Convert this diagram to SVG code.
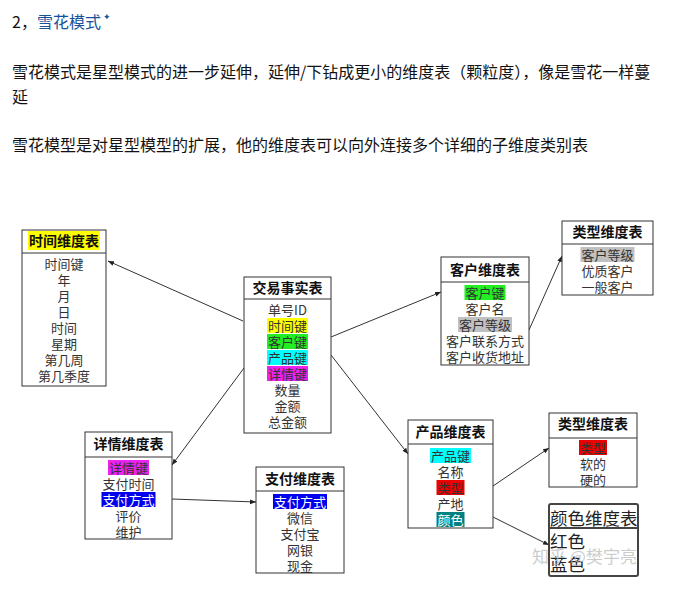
<svg xmlns="http://www.w3.org/2000/svg" width="687" height="605" viewBox="0 0 687 605">
<style>
text{font-family:"Noto Sans CJK SC","Liberation Sans",sans-serif}
.p{font-size:16px;fill:#121212}
.box{fill:#fff;stroke:#333;stroke-width:1}
.div{stroke:#333;stroke-width:1}
.t{font-size:14px;font-weight:bold;text-anchor:middle;dominant-baseline:central;fill:#111}
.r{font-size:13px;text-anchor:middle;dominant-baseline:central;fill:#333}
.w{fill:#fff}
.c{stroke:#333;stroke-width:1;fill:none;marker-end:url(#ah)}
.big{font-size:17.5px;dominant-baseline:central;fill:#222}
</style>
<defs>
<marker id="ah" viewBox="0 0 10 10" refX="10" refY="5" markerWidth="6" markerHeight="6" orient="auto" markerUnits="userSpaceOnUse">
<path d="M0,1 L10,5 L0,9 z" fill="#222"/>
</marker>
</defs>
<rect width="687" height="605" fill="#fff"/>

<g id="heading">
<text x="12" y="28" class="p"><tspan>2，</tspan><tspan fill="#175199">雪花模式</tspan></text>
<text x="103" y="20" font-size="9" fill="#175199">✦</text>
<text x="12" y="78" class="p">雪花模式是星型模式的进一步延伸，延伸/下钻成更小的维度表（颗粒度），像是雪花一样蔓</text>
<text x="12" y="103" class="p">延</text>
<text x="12" y="151" class="p">雪花模型是对星型模型的扩展，他的维度表可以向外连接多个详细的子维度类别表</text>
</g>

<g id="connectors">
<line class="c" x1="243" y1="321" x2="108" y2="261"/>
<line class="c" x1="331" y1="337" x2="441" y2="292"/>
<line class="c" x1="331" y1="355" x2="408" y2="454"/>
<line class="c" x1="244" y1="368" x2="172" y2="465"/>
<line class="c" x1="172" y1="499" x2="256" y2="502"/>
<line class="c" x1="529" y1="330" x2="562" y2="256"/>
<line class="c" x1="493" y1="486" x2="549" y2="448"/>
<line class="c" x1="493" y1="517" x2="549" y2="545"/>
</g>

<g id="time-dim">
<rect class="box" x="22" y="230" width="84" height="156"/>
<line class="div" x1="22" y1="253" x2="106" y2="253"/>
<rect x="28" y="231" width="72" height="19" fill="#ffff00"/>
<text class="t" x="64" y="240">时间维度表</text>
<text class="r" x="64" y="263">时间键</text>
<text class="r" x="64" y="279">年</text>
<text class="r" x="64" y="295">月</text>
<text class="r" x="64" y="311">日</text>
<text class="r" x="64" y="327">时间</text>
<text class="r" x="64" y="343">星期</text>
<text class="r" x="64" y="359">第几周</text>
<text class="r" x="64" y="375">第几季度</text>
</g>

<g id="fact">
<rect class="box" x="244" y="277" width="87" height="156"/>
<line class="div" x1="244" y1="299" x2="331" y2="299"/>
<text class="t" x="287.5" y="287">交易事实表</text>
<text class="r" x="287.5" y="309">单号ID</text>
<rect x="267" y="318" width="41" height="15" fill="#ffff00"/>
<text class="r" x="287.5" y="325">时间键</text>
<rect x="267" y="334" width="41" height="15" fill="#22ee22"/>
<text class="r" x="287.5" y="341">客户键</text>
<rect x="267" y="350" width="41" height="15" fill="#00ffff"/>
<text class="r" x="287.5" y="357">产品键</text>
<rect x="267" y="366" width="41" height="15" fill="#ee22ee"/>
<text class="r" x="287.5" y="373">详情键</text>
<text class="r" x="287.5" y="389">数量</text>
<text class="r" x="287.5" y="405">金额</text>
<text class="r" x="287.5" y="421">总金额</text>
</g>

<g id="customer-dim">
<rect class="box" x="441" y="257" width="88" height="108"/>
<line class="div" x1="441" y1="282" x2="529" y2="282"/>
<text class="t" x="485" y="269">客户维度表</text>
<rect x="464.5" y="285" width="41" height="15" fill="#22ee22"/>
<text class="r" x="485" y="292">客户键</text>
<text class="r" x="485" y="308">客户名</text>
<rect x="458" y="317" width="54" height="15" fill="#c0c0c0"/>
<text class="r" x="485" y="324">客户等级</text>
<text class="r" x="485" y="340">客户联系方式</text>
<text class="r" x="485" y="356">客户收货地址</text>
</g>

<g id="type-dim-1">
<rect class="box" x="562" y="221" width="91" height="74"/>
<line class="div" x1="562" y1="244" x2="653" y2="244"/>
<text class="t" x="607.5" y="231">类型维度表</text>
<rect x="580.5" y="247" width="54" height="15" fill="#c0c0c0"/>
<text class="r" x="607.5" y="254">客户等级</text>
<text class="r" x="607.5" y="270">优质客户</text>
<text class="r" x="607.5" y="286">一般客户</text>
</g>

<g id="detail-dim">
<rect class="box" x="85" y="432" width="87" height="107"/>
<line class="div" x1="85" y1="457" x2="172" y2="457"/>
<text class="t" x="128.5" y="443">详情维度表</text>
<rect x="108" y="460" width="41" height="15" fill="#ee22ee"/>
<text class="r" x="128.5" y="467">详情键</text>
<text class="r" x="128.5" y="483">支付时间</text>
<rect x="101.5" y="492" width="54" height="15" fill="#0000ee"/>
<text class="r w" x="128.5" y="499">支付方式</text>
<text class="r" x="128.5" y="515">评价</text>
<text class="r" x="128.5" y="531">维护</text>
</g>

<g id="payment-dim">
<rect class="box" x="256" y="467" width="88" height="106"/>
<line class="div" x1="256" y1="491" x2="344" y2="491"/>
<text class="t" x="300" y="478">支付维度表</text>
<rect x="273" y="494" width="54" height="15" fill="#0000ee"/>
<text class="r w" x="300" y="501">支付方式</text>
<text class="r" x="300" y="517">微信</text>
<text class="r" x="300" y="533">支付宝</text>
<text class="r" x="300" y="549">网银</text>
<text class="r" x="300" y="565">现金</text>
</g>

<g id="product-dim">
<rect class="box" x="408" y="420" width="85" height="108"/>
<line class="div" x1="408" y1="444" x2="493" y2="444"/>
<text class="t" x="450.5" y="431">产品维度表</text>
<rect x="430" y="448" width="41" height="15" fill="#00ffff"/>
<text class="r" x="450.5" y="455">产品键</text>
<text class="r" x="450.5" y="471">名称</text>
<rect x="436.5" y="480" width="28" height="15" fill="#ee0000"/>
<text class="r" x="450.5" y="487">类型</text>
<text class="r" x="450.5" y="503">产地</text>
<rect x="436.5" y="512" width="28" height="15" fill="#008080"/>
<text class="r w" x="450.5" y="519">颜色</text>
</g>

<g id="type-dim-2">
<rect class="box" x="549" y="413" width="88" height="74"/>
<line class="div" x1="549" y1="438" x2="637" y2="438"/>
<text class="t" x="593" y="423">类型维度表</text>
<rect x="579" y="440" width="28" height="15" fill="#ee0000"/>
<text class="r" x="593" y="447">类型</text>
<text class="r" x="593" y="463">软的</text>
<text class="r" x="593" y="479">硬的</text>
</g>

<g id="color-dim">
<rect x="549" y="504" width="89" height="72" rx="2" fill="#fff" stroke="#444" stroke-width="2"/>
<line x1="549" y1="528" x2="638" y2="528" stroke="#444" stroke-width="2"/>
<text class="big" x="550" y="517">颜色维度表</text>
<text class="big" x="550" y="540">红色</text>
<text class="big" x="550" y="563">蓝色</text>
</g>

<g id="watermark">
<text x="532" y="563" font-size="17" fill="#bbb" fill-opacity="0.75">知乎 @樊宇亮</text>
</g>
</svg>
